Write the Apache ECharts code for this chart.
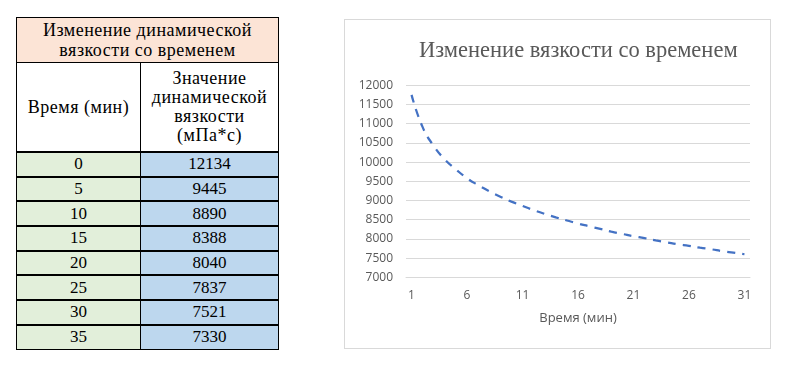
<!DOCTYPE html>
<html>
<head>
<meta charset="utf-8">
<script src="https://cdn.jsdelivr.net/npm/echarts@6/dist/echarts.min.js"></script>
<style>
  html, body { margin: 0; padding: 0; background: #fff; width: 800px; height: 367px; overflow: hidden; }
  #tbl { position: absolute; left: 16px; top: 17px; width: 262px; border-collapse: collapse; table-layout: fixed; }
  #tbl td { border: 1px solid #000; padding: 0; text-align: center; vertical-align: middle;
            font-family: "Liberation Serif", "Times New Roman", serif; font-size: 18px; letter-spacing: 0.5px; color: #000; }
  #tbl td.title { background: #fce4d6; height: 44px; line-height: 20px; }
  #tbl tr.hdr td { height: 88px; background: #fff; line-height: 19px; }
  #tbl tr.data td { height: 22.7px; border-top: 2px solid #000; line-height: 18px; font-size: 17px; letter-spacing: 0; }
  #tbl tr.data td.t { background: #e2efda; }
  #tbl tr.data td.v { background: #bdd7ee; }
  #wrap { position: absolute; left: 344px; top: 19px; width: 425px; height: 328px; border: 1px solid #d9d9d9; }
  #chart { width: 425px; height: 328px; }
</style>
</head>
<body>
<table id="tbl"></table>
<div id="wrap"><div id="chart"></div></div>
<script>
// ---- table data ----
var tableTitle = 'Изменение динамической<br>вязкости со временем';
var headerTime = 'Время (мин)';
var headerValue = 'Значение<br>динамической<br>вязкости<br>(мПа*с)';
var tableTimes = [0, 5, 10, 15, 20, 25, 30, 35];
var tableViscosity = [12134, 9445, 8890, 8388, 8040, 7837, 7521, 7330];

// ---- chart data ----
var chartTitle = 'Изменение вязкости со временем';
var xAxisName = 'Время (мин)';
var categories = [1, 2, 3, 4, 5, 6, 7, 8, 9, 10, 11, 12, 13, 14, 15, 16, 17, 18, 19, 20,
                  21, 22, 23, 24, 25, 26, 27, 28, 29, 30, 31];
var curveValues = [11750, 10910, 10420, 10070, 9810, 9580, 9400, 9240, 9100, 8970,
                   8860, 8750, 8650, 8560, 8480, 8400, 8330, 8260, 8190, 8130,
                   8070, 8020, 7960, 7910, 7860, 7820, 7770, 7730, 7680, 7640, 7600];
var yMin = 7000, yMax = 12000, yStep = 500;

// build table
var html = '<colgroup><col style="width:124px"><col style="width:138px"></colgroup>';
html += '<tr><td class="title" colspan="2">' + tableTitle + '</td></tr>';
html += '<tr class="hdr"><td>' + headerTime + '</td><td>' + headerValue + '</td></tr>';
for (var i = 0; i < tableTimes.length; i++) {
  html += '<tr class="data"><td class="t">' + tableTimes[i] + '</td><td class="v">' + tableViscosity[i] + '</td></tr>';
}
document.getElementById('tbl').innerHTML = html;

// chart
var chart = echarts.init(document.getElementById('chart'), null, { renderer: 'canvas' });
chart.setOption({
  animation: false,
  backgroundColor: '#fff',
  title: {
    text: chartTitle,
    left: 69,
    top: 15,
    textStyle: { fontFamily: 'Liberation Serif', fontSize: 22.5, fontWeight: 'normal', color: '#595959' }
  },
  grid: { left: 61, right: 20, top: 65.3, bottom: 70.7 },
  xAxis: {
    type: 'category',
    data: categories,
    boundaryGap: true,
    axisLine: { show: true, lineStyle: { color: '#d9d9d9' } },
    axisTick: { show: false },
    axisLabel: { interval: 4, margin: 12, color: '#595959', fontFamily: 'Open Sans', fontSize: 12 },
    name: xAxisName,
    nameLocation: 'middle',
    nameGap: 34,
    nameTextStyle: { color: '#595959', fontFamily: 'Open Sans', fontSize: 13 }
  },
  yAxis: {
    type: 'value',
    min: yMin, max: yMax, interval: yStep,
    axisLine: { show: false },
    axisTick: { show: false },
    axisLabel: { margin: 13, color: '#595959', fontFamily: 'Open Sans', fontSize: 12,
                 formatter: function (v) { return String(v); } },
    splitLine: { lineStyle: { color: '#d9d9d9', width: 1 } }
  },
  series: [{
    type: 'line',
    data: curveValues,
    symbol: 'none',
    smooth: true,
    lineStyle: { color: '#4472C4', width: 2.25, type: [8, 7] }
  }]
});
</script>
</body>
</html>
